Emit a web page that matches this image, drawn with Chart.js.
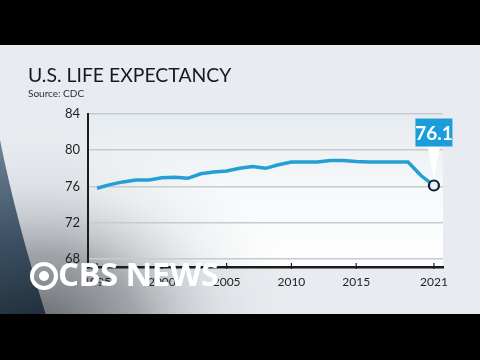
<!DOCTYPE html>
<html>
<head>
<meta charset="utf-8">
<script src="https://cdn.jsdelivr.net/npm/chart.js@4.4.0/dist/chart.umd.min.js"></script>
<style>
html,body{margin:0;padding:0;width:480px;height:360px;overflow:hidden;background:#e8ecf0;}
#wrap{position:relative;width:480px;height:360px;}
canvas{position:absolute;left:0;top:0;}
.bar{position:absolute;left:0;width:480px;background:#000;z-index:5;}
#title{position:absolute;left:28px;top:64.5px;font-family:Lato,sans-serif;font-size:19.4px;line-height:1;color:#16191d;white-space:nowrap;z-index:3;}
#source{position:absolute;left:28px;top:88px;font-family:Lato,sans-serif;font-size:10px;line-height:1;color:#2a2d31;white-space:nowrap;z-index:3;}
#logo{position:absolute;left:30px;top:257px;z-index:4;height:40px;}
#eye{position:absolute;left:0;top:5px;width:20px;height:20px;border:4px solid #fff;border-radius:50%;}
#pupil{position:absolute;left:5px;top:5px;width:10px;height:10px;background:#fff;border-radius:50%;}
#logotext{position:absolute;left:28px;top:0;font-family:"Open Sans",sans-serif;font-weight:700;font-size:33px;line-height:1;color:#fff;letter-spacing:-0.6px;white-space:nowrap;}
</style>
</head>
<body>
<div id="wrap">
  <canvas id="c" width="480" height="360"></canvas>
  <div class="bar" style="top:0;height:45px;"></div>
  <div class="bar" style="top:314px;height:46px;"></div>
  <div id="title">U.S. LIFE EXPECTANCY</div>
  <div id="source">Source: CDC</div>
  <div id="logo"><div id="eye"><div id="pupil"></div></div><div id="logotext">CBS NEWS</div></div>
</div>
<script>
const years = [1995,1996,1997,1998,1999,2000,2001,2002,2003,2004,2005,2006,2007,2008,2009,2010,2011,2012,2013,2014,2015,2016,2017,2018,2019,2020,2021];
const lifeExpectancy = [75.8,76.2,76.5,76.7,76.7,76.95,77.0,76.9,77.4,77.6,77.7,78.0,78.2,78.0,78.4,78.7,78.7,78.7,78.85,78.85,78.75,78.7,78.7,78.7,78.7,77.2,76.1];
const yTicks = [68,72,76,80,84];
const xTicks = [1995,2000,2005,2010,2015,2021];
const calloutText = '76.1';

const lastIndex = years.length - 1;

const decor = {
  id:'decor',
  beforeDraw(chart){
    const c = chart.ctx, a = chart.chartArea;
    c.save();
    // plot area gradient
    const g = c.createLinearGradient(0,a.top,0,a.bottom);
    g.addColorStop(0,'#e6ebef');
    g.addColorStop(0.5,'#f7f9fa');
    g.addColorStop(1,'#ffffff');
    c.fillStyle = g;
    c.fillRect(a.left,a.top,a.right-a.left,a.bottom-a.top);
    // studio shade bottom-left
    c.save();
    c.translate(40,330);
    c.scale(1.25,1);
    const r = c.createRadialGradient(0,0,5,0,0,210);
    r.addColorStop(0,'rgba(95,99,104,0.95)');
    r.addColorStop(0.35,'rgba(135,139,143,0.75)');
    r.addColorStop(0.7,'rgba(200,204,208,0.3)');
    r.addColorStop(1,'rgba(232,236,240,0)');
    c.fillStyle = r;
    c.fillRect(-60,-290,400,300);
    c.restore();
    // dark structure on left edge
    const d = c.createLinearGradient(0,150,40,315);
    d.addColorStop(0,'#6a7f92');
    d.addColorStop(0.5,'#3e5367');
    d.addColorStop(1,'#22303d');
    c.fillStyle = d;
    c.beginPath();
    c.moveTo(0,140);
    c.quadraticCurveTo(16,220,46,315);
    c.lineTo(0,315);
    c.closePath();
    c.fill();
    c.restore();
  },
  afterDraw(chart){
    const c = chart.ctx, a = chart.chartArea, xs = chart.scales.x;
    c.save();
    // small tick marks on x axis
    c.strokeStyle = '#1c1c1c';
    c.lineWidth = 1.2;
    xTicks.forEach(v=>{
      const x = xs.getPixelForValue(v);
      c.beginPath();c.moveTo(x,a.bottom-4);c.lineTo(x,a.bottom+2);c.stroke();
    });
    // callout
    const pt = chart.getDatasetMeta(0).data[lastIndex];
    const px = pt.x, py = pt.y;
    const bw = 37, bh = 28;
    const bx = px - bw/2, by = py - 67;
    c.fillStyle = '#ffffff';
    c.beginPath();
    c.moveTo(px-6,by+bh);c.lineTo(px+6,by+bh);c.lineTo(px,py-6);c.closePath();
    c.fill();
    c.fillStyle = '#1b9ddb';
    c.fillRect(bx,by,bw,bh);
    c.fillStyle = '#ffffff';
    c.font = 'bold 19px Lato, sans-serif';
    c.textAlign = 'center';
    c.textBaseline = 'middle';
    c.fillText(calloutText,px,by+bh/2+1);
    c.restore();
  }
};

new Chart(document.getElementById('c'),{
  type:'line',
  data:{datasets:[{
    data: years.map((y,i)=>({x:y,y:lifeExpectancy[i]})),
    borderColor:'#249fd4',
    borderWidth:3.5,
    tension:0,
    fill:false,
    pointRadius: ctx => ctx.dataIndex===lastIndex ? 5 : 0,
    pointBackgroundColor:'#eaf1f5',
    pointBorderColor:'#0f2233',
    pointBorderWidth:2.2
  }]},
  options:{
    responsive:false,
    animation:false,
    layout:{padding:{left:0,right:37,top:114,bottom:63}},
    plugins:{legend:{display:false},tooltip:{enabled:false}},
    scales:{
      x:{
        type:'linear',min:1994.3,max:2021.7,
        afterBuildTicks: s => { s.ticks = xTicks.map(v=>({value:v})); },
        ticks:{callback:v=>String(v),color:'#1d1f22',font:{family:'Lato',size:12},padding:8,maxRotation:0,autoSkip:false},
        grid:{display:false,drawTicks:false},
        border:{display:true,color:'#1c1c1c',width:2.5},
        afterFit: s => { s.height = 30; }
      },
      y:{
        min:67.1,max:84,
        afterBuildTicks: s => { s.ticks = yTicks.map(v=>({value:v})); },
        ticks:{color:'#1d1f22',font:{family:'Lato',size:13},padding:8},
        grid:{color:'#c6cbd0',lineWidth:1.5,drawTicks:false},
        border:{display:true,color:'#1c1c1c',width:2},
        afterFit: s => { s.width = 88; }
      }
    }
  },
  plugins:[decor]
});
</script>
</body>
</html>
